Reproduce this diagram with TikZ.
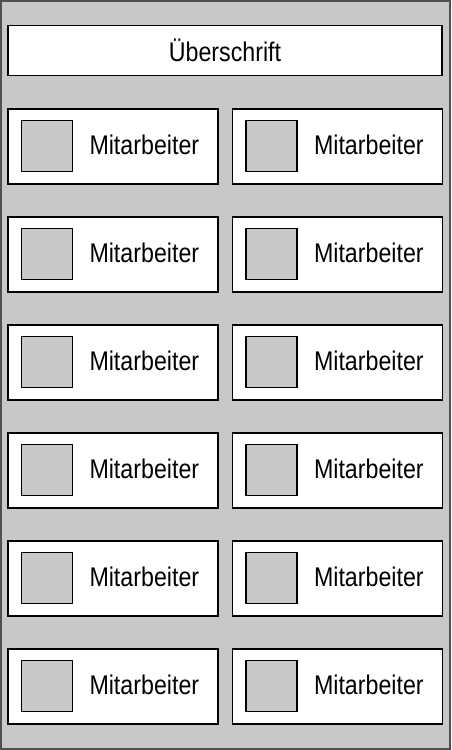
\documentclass[tikz,border=0pt]{standalone}
\usepackage{fontspec}
\setmainfont[FakeStretch=0.86]{Liberation Sans}
\definecolor{panelgray}{RGB}{200,200,200}
\definecolor{framegray}{RGB}{80,80,80}
\tikzset{
  card/.style={draw=black, fill=white, line width=1.4pt, minimum width=210pt, minimum height=75pt, inner sep=0pt},
  photo/.style={draw=black, fill=panelgray, line width=1.4pt, minimum width=51pt, minimum height=51pt, inner sep=0pt},
  label/.style={font=\fontsize{27}{30}\selectfont, anchor=west, inner sep=0pt}
}
\begin{document}
\begin{tikzpicture}[x=1pt,y=-1pt]
\useasboundingbox (0,0) rectangle (451,750);
\node[draw=framegray, fill=panelgray, line width=2pt, minimum width=449pt, minimum height=748pt, inner sep=0pt] (panel) at (225.5,375) {};
\node[card, minimum width=434pt, minimum height=50pt] (header) at (225,50.5) {};
\node[font=\fontsize{27}{30}\selectfont] (title) at (header.center) {Überschrift};
% Mitarbeiter-Karten
\foreach \row in {0,...,5}{
  \foreach \col/\cx in {l/113,r/337.5}{
    \node[card] (card-\col\row) at (\cx,146.5+108*\row) {};
    \node[photo] (photo-\col\row) at ([xshift=39.5pt,yshift=0.5pt]card-\col\row.west) {};
    \node[label] (name-\col\row) at ([xshift=82pt,yshift=2pt]card-\col\row.west) {Mitarbeiter};
  }
}
\end{tikzpicture}
\end{document}
